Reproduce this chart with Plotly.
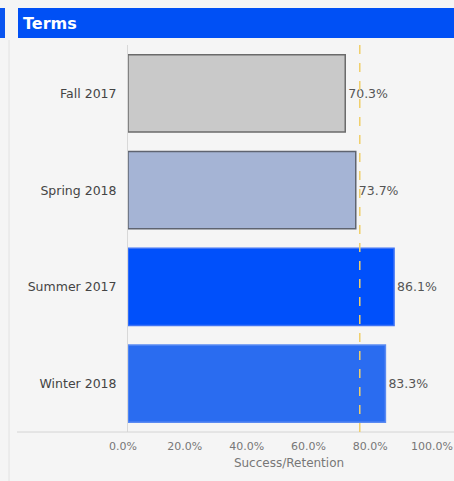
import plotly.graph_objects as go

# data
terms = ["Fall 2017", "Spring 2018", "Summer 2017", "Winter 2018"]
rates = [70.3, 73.7, 86.1, 83.3]
bar_colors = ["#c9c9c9", "#a5b4d5", "#0050fb", "#2a6cf0"]
edge_colors = ["#6b6b6b", "#5f6470", "#3f73f5", "#5a8af2"]
target = 75.0
tick_vals = [0, 20, 40, 60, 80, 100]
tick_text = [f"{v:.1f}%" for v in tick_vals]

W, H = 454, 481
ml, mr, mt, mb = 128, 4, 45, 49
pw, ph = W - ml - mr, H - mt - mb


def px(x):
	return (x - ml) / pw


def py(y):
	return 1 - (y - mt) / ph


fig = go.Figure()

fig.add_trace(
	go.Bar(
		x=rates,
		y=terms,
		orientation="h",
		marker=dict(color=bar_colors, line=dict(color=edge_colors, width=1.5)),
		text=[f"{r:.1f}%" for r in rates],
		textposition="outside",
		textfont=dict(size=12.5, color="#555555"),
		cliponaxis=False,
		showlegend=False,
	)
)

shapes = [
	# left panel sliver
	dict(type="rect", xref="paper", yref="paper", x0=px(0), x1=px(5), y0=py(38), y1=py(8),
	     fillcolor="#0a55f0", line_width=0, layer="below"),
	dict(type="line", xref="paper", yref="paper", x0=px(9), x1=px(9), y0=py(H), y1=py(40),
	     line=dict(color="#e2e2e2", width=1)),
	# header bar
	dict(type="rect", xref="paper", yref="paper", x0=px(18), x1=px(W), y0=py(38), y1=py(8),
	     fillcolor="#0050f5", line_width=0, layer="below"),
	# bottom rule
	dict(type="line", xref="paper", yref="paper", x0=px(17), x1=px(W), y0=0, y1=0,
	     line=dict(color="#d4d4d4", width=1)),
	# target line
	dict(type="line", xref="x", yref="paper", x0=target, x1=target, y0=0, y1=1,
	     line=dict(color="#f0cf6a", width=1.5, dash="dash"), layer="above"),
]

fig.update_layout(
	width=W,
	height=H,
	margin=dict(l=ml, r=mr, t=mt, b=mb, autoexpand=False),
	paper_bgcolor="#f5f5f5",
	plot_bgcolor="#f5f5f5",
	font=dict(family="DejaVu Sans, sans-serif", size=11, color="#555555"),
	bargap=0.2,
	shapes=shapes,
	annotations=[
		dict(text="<b>Terms</b>", xref="paper", yref="paper", x=px(21), y=py(23),
		     xanchor="left", yanchor="middle", showarrow=False,
		     font=dict(size=16, color="white")),
	],
	xaxis=dict(
		range=[0, 104.2],
		tickvals=tick_vals,
		ticktext=tick_text,
		ticklabeloverflow="allow",
		ticklabelstandoff=6,
		ticklabelshift=-5,
		automargin=False,
		showgrid=False,
		zeroline=False,
		tickfont=dict(size=11, color="#777777"),
		title=dict(text="Success/Retention", font=dict(size=12, color="#777777"), standoff=6),
	),
	yaxis=dict(
		categoryorder="array",
		categoryarray=terms,
		autorange="reversed",
		automargin=False,
		showgrid=False,
		showline=True,
		linecolor="#d8d8d8",
		ticks="",
		ticklabelstandoff=8,
		tickfont=dict(size=12.5, color="#444444"),
	),
)

fig.write_html("out.html", config={"displayModeBar": False},
               post_script="document.body.style.margin='0';")
